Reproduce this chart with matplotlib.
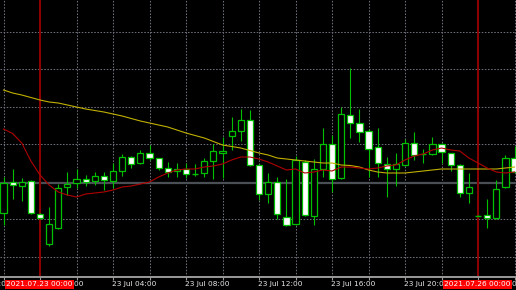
import matplotlib
matplotlib.use("Agg")
import matplotlib.pyplot as plt
import matplotlib.transforms as mtransforms
import numpy as np

# ---- data (M30 candles, price in points) ----
opens = [87, 118, 114.5, 119, 86.5, 56, 72, 113, 117.5, 121.5, 119, 124.5, 119.5, 129, 143, 137, 147, 142, 132,
         129, 131, 126, 127, 139, 147, 164.5, 169, 180, 135.5, 106, 118, 83, 76, 138, 84, 131, 156, 122, 185,
         177, 169, 153, 136, 131, 135, 157, 146, 146, 156, 147, 135, 107, 84.5, 85, 82, 113, 142]
highs = [123, 131, 122, 120, 87, 93, 116, 128, 131.5, 125, 128, 128, 137, 146.5, 144.5, 150, 155, 142.5, 138,
         137, 137, 136, 142, 156.5, 163.5, 183.5, 191, 190, 136, 127, 123, 121, 144, 140, 141, 172, 165, 193, 232,
         191, 171, 172, 143, 147, 161, 168, 151, 163, 157, 147.5, 136, 127, 85, 101, 120, 145.5, 154]
lows = [75, 101, 99, 86.5, 81.5, 54, 71.5, 105, 112, 114, 115, 110, 112, 124.5, 132, 136.5, 140, 130, 123,
        123, 122, 124, 123, 121.5, 122.5, 150, 159, 134, 100, 97, 81, 74.5, 75, 84.5, 75, 123, 108, 121.5, 162,
        158, 123, 123, 103, 114, 134.5, 140, 137, 145.5, 137, 129, 103, 97, 84, 72, 81.5, 112.5, 128]
closes = [117, 115, 118, 87, 82, 76, 112, 116, 121, 118.5, 124.5, 120, 129.5, 143, 136.5, 147, 142, 132, 128,
          131.5, 126, 126, 139, 149, 149, 169, 180, 135, 106, 118, 86, 75, 140, 85, 131, 156, 121, 186, 177,
          168, 151, 137, 131, 136, 157, 145, 146, 156, 148, 135, 107, 113, 84.5, 82.5, 111, 142, 128]
ma_fast = [171, 166.5, 157, 139, 125, 115, 108, 105, 103, 106, 107, 108, 110, 113, 114, 116, 118, 123, 127,
           130, 131, 131, 133, 134, 136, 140, 143, 143, 141, 138, 134, 130, 131, 127, 128, 130, 129, 133, 133,
           132, 131, 132, 134, 135, 140, 144, 146, 150, 152, 150, 149, 142, 137, 132, 128, 127, 128]
ma_slow = [210, 207, 205, 202.5, 200, 198, 197, 195, 193, 191, 189.5, 188, 186, 184, 181.5, 179, 177, 175, 173,
           170, 167, 164.5, 162, 158.5, 155, 153.5, 152, 149.5, 147, 145, 142, 141, 140, 139, 138, 137, 137, 135,
           134.5, 133, 130, 128, 127, 127, 127, 128, 129, 130, 131, 131, 131, 131, 131, 131, 131, 132, 133]
bid_price = 117
price_grid = [43.5, 81, 118.5, 156, 193.5, 231, 268.5]
time_labels = ["22 Jul 20:00", "23 Jul 00:00", "23 Jul 04:00", "23 Jul 08:00", "23 Jul 12:00",
               "23 Jul 16:00", "23 Jul 20:00", "26 Jul 00:00"]
label_idx = [-4, 4, 12, 20, 28, 36, 44, 52]
separator_idx = [4, 52]
separator_labels = ["2021.07.23 00:00", "2021.07.26 00:00"]

GREEN = "#00c000"
BG = "black"

fig = plt.figure(figsize=(5.16, 2.90), dpi=100, facecolor=BG)
ax = fig.add_axes([0, 13 / 290, 1, 277 / 290], facecolor=BG)

n = len(opens)
x = np.arange(n)
ax.set_xlim(-0.384, 56.16)
ax.set_ylim(23, 300)

# grid
grid_x = np.arange(0, n, 4)
for gx in grid_x:
    ax.axvline(gx, color="#6a6e78", lw=0.75, dashes=(1.5, 1.5), zorder=1)
for gy in price_grid:
    ax.axhline(gy, color="#6a6e78", lw=0.75, dashes=(1.5, 1.5), zorder=1)

# bid line
ax.axhline(bid_price, color="#4a4f56", lw=1.6, zorder=1.5)

# period separators
for s in separator_idx:
    ax.axvline(s, color="#8a0000", lw=1.5, zorder=2)

# candles
o = np.array(opens); h = np.array(highs); l = np.array(lows); c = np.array(closes)
ax.vlines(x, l, h, color=GREEN, lw=0.8, zorder=3)
w = 0.68
for i in range(n):
    if o[i] == c[i]:
        ax.hlines(o[i], i - w / 2, i + w / 2, color=GREEN, lw=1.0, zorder=4)
    else:
        fc = "black" if c[i] > o[i] else "white"
        ax.bar(i, abs(c[i] - o[i]), bottom=min(o[i], c[i]), width=w, facecolor=fc,
               edgecolor=GREEN, linewidth=0.9, zorder=4)

# moving averages
ax.plot(x, ma_slow, color="#c0b000", lw=0.8, zorder=5)
ax.plot(x, ma_fast, color="#b00000", lw=0.8, zorder=5)

# axis styling
for sp in ["top", "right", "left"]:
    ax.spines[sp].set_visible(False)
ax.spines["bottom"].set_color("#9a9a9a")
ax.spines["bottom"].set_linewidth(1.4)
ax.set_yticks([])
ax.set_xticks(grid_x)
ax.set_xticklabels([])
ax.tick_params(axis="x", direction="out", length=2, color="#9a9a9a", width=0.8)

trans = mtransforms.blended_transform_factory(ax.transData, ax.transAxes)
for li, lab in zip(label_idx, time_labels):
    ax.text(li - 0.11, -0.027, lab, transform=trans, ha="left", va="center",
            color="#e8e8e8", fontsize=5.3, family="DejaVu Sans", clip_on=False, zorder=6)
for si, lab in zip(separator_idx, separator_labels):
    ax.text(si - 0.06, -0.027, lab, transform=trans, ha="center", va="center",
            color="white", fontsize=5.3, family="DejaVu Sans", clip_on=False, zorder=7,
            bbox=dict(boxstyle="square,pad=0.18", facecolor="#ff0000", edgecolor="none"))

fig.savefig("out.png", dpi=100, facecolor=BG)
